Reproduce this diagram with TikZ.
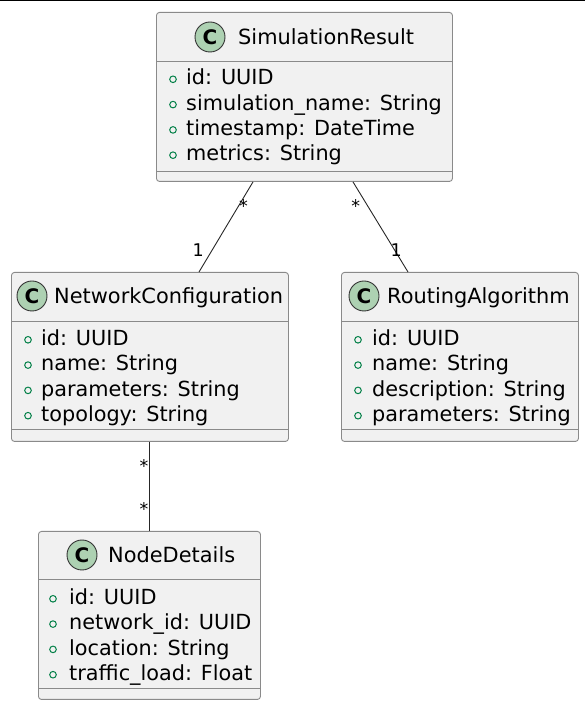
\documentclass[tikz,border=0pt]{standalone}
\usepackage{fontspec}
\setmainfont{DejaVu Sans}
\definecolor{boxfill}{HTML}{F1F1F1}
\definecolor{boxline}{HTML}{8A8A8A}
\definecolor{iconfill}{HTML}{ADD1B2}
\definecolor{attrmark}{HTML}{038048}
\tikzset{
  classbox/.style={draw=boxline, fill=boxfill, rounded corners=3pt, line width=0.9pt,
    anchor=north west, inner sep=0pt},
  sepline/.style={draw=boxline, line width=0.9pt},
  classicon/.style={circle, draw=black!80, fill=iconfill, line width=0.9pt,
    minimum size=30pt, inner sep=0pt, font=\fontsize{20}{20}\selectfont\bfseries},
  classtitle/.style={anchor=base west, inner sep=0pt, font=\fontsize{20.9}{24}\selectfont},
  attrtext/.style={anchor=base west, inner sep=0pt, font=\fontsize{20.8}{24}\selectfont},
  assoc/.style={draw=black!85, line width=0.9pt},
  mult/.style={anchor=base, inner sep=0pt, font=\fontsize{17.5}{17.5}\selectfont},
}
\begin{document}
\begin{tikzpicture}[x=1pt,y=1pt]
  \useasboundingbox (0,0) rectangle (585,707);
  \draw[black, line width=1.2pt] (0,706.4) -- (585,706.4);

  % SimulationResult
  \begin{scope}[shift={(156,695)}]
    \node[classbox, minimum width=296pt, minimum height=169pt] (sim) at (0,0) {};
    \draw[sepline] (0,-49) -- (296,-49) (0,-159) -- (296,-159);
    \node[classicon] (simicon) at (54,-25) {C};
    \node[classtitle] (simtitle) at (82,-32.5) {SimulationResult};
    \foreach[count=\i,evaluate={-65.5-25.3*(\i-1)} as \y] \a in {id: UUID,simulation\_name: String,timestamp: DateTime,metrics: String} {
      \draw[attrmark, line width=1pt] (17,\y-1.8) circle (3.3pt);
      \node[attrtext] at (30,\y-7.5) {\a};
    }
  \end{scope}

  % NetworkConfiguration
  \begin{scope}[shift={(11,435)}]
    \node[classbox, minimum width=277pt, minimum height=169pt] (net) at (0,0) {};
    \draw[sepline] (0,-49) -- (277,-49) (0,-157) -- (277,-157);
    \node[classicon] (neticon) at (21,-24) {C};
    \node[classtitle] (nettitle) at (43,-31.5) {NetworkConfiguration};
    \foreach[count=\i,evaluate={-66-25.3*(\i-1)} as \y] \a in {id: UUID,name: String,parameters: String,topology: String} {
      \draw[attrmark, line width=1pt] (17,\y-1.8) circle (3.3pt);
      \node[attrtext] at (30,\y-7.5) {\a};
    }
  \end{scope}

  % RoutingAlgorithm
  \begin{scope}[shift={(341,435)}]
    \node[classbox, minimum width=237pt, minimum height=169pt] (route) at (0,0) {};
    \draw[sepline] (0,-49) -- (237,-49) (0,-157) -- (237,-157);
    \node[classicon] (routeicon) at (23,-24) {C};
    \node[classtitle] (routetitle) at (46,-31.5) {RoutingAlgorithm};
    \foreach[count=\i,evaluate={-66-25.3*(\i-1)} as \y] \a in {id: UUID,name: String,description: String,parameters: String} {
      \draw[attrmark, line width=1pt] (17,\y-1.8) circle (3.3pt);
      \node[attrtext] at (31,\y-7.5) {\a};
    }
  \end{scope}

  % NodeDetails
  \begin{scope}[shift={(38,176)}]
    \node[classbox, minimum width=222pt, minimum height=168pt] (det) at (0,0) {};
    \draw[sepline] (0,-48) -- (222,-48) (0,-157) -- (222,-157);
    \node[classicon] (deticon) at (44,-24) {C};
    \node[classtitle] (dettitle) at (70,-31.5) {NodeDetails};
    \foreach[count=\i,evaluate={-66-25.3*(\i-1)} as \y] \a in {id: UUID,network\_id: UUID,location: String,traffic\_load: Float} {
      \draw[attrmark, line width=1pt] (15,\y-1.8) circle (3.3pt);
      \node[attrtext] at (31,\y-7.5) {\a};
    }
  \end{scope}

  % associations
  \draw[assoc] ([xshift=97pt]sim.south west) -- ([xshift=188pt]net.north west)
    node[mult, pos=0.23, xshift=3pt, yshift=-10pt] {*}
    node[mult, pos=0.756, xshift=-14pt, yshift=-6pt] {1};
  \draw[assoc] ([xshift=197pt]sim.south west) -- ([xshift=67pt]route.north west)
    node[mult, pos=0.23, xshift=-10pt, yshift=-10pt] {*}
    node[mult, pos=0.756, xshift=1.5pt, yshift=-6pt] {1};
  \draw[assoc] ([xshift=138pt]net.south west) -- ([xshift=111pt]det.north west)
    node[mult, pos=0.233, xshift=-5pt, yshift=-10pt] {*}
    node[mult, pos=0.711, xshift=-5pt, yshift=-10pt] {*};
\end{tikzpicture}
\end{document}
